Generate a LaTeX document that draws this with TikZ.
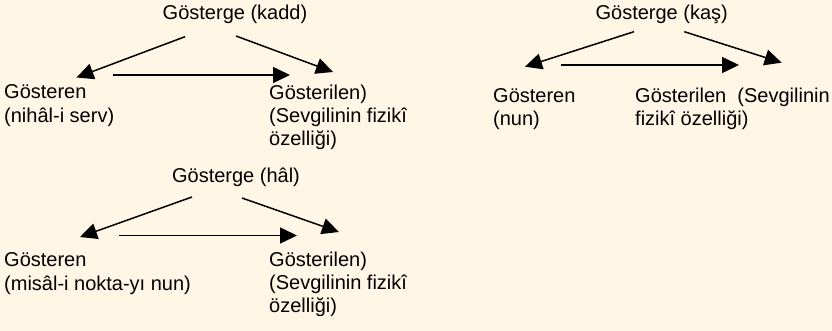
\documentclass[tikz,border=0pt]{standalone}
\usepackage{fontspec}
\setmainfont{Liberation Sans}
\usetikzlibrary{arrows.meta}
\definecolor{paper}{HTML}{FFF6E6}
\tikzset{
  lbl/.style={inner sep=0pt, font=\fontsize{20}{23.3}\selectfont},
  arr/.style={line width=1.5pt, -{Triangle[length=17pt,width=16pt]}},
}
\begin{document}
\begin{tikzpicture}[x=1pt,y=-1pt]
\fill[paper] (0,0) rectangle (832,331);
\useasboundingbox (0,0) rectangle (832,331);

% --- Gösterge (kadd)
\node[lbl, anchor=base] (kaddT) at (235,20) {Gösterge (kadd)};
\node[lbl, anchor=base west] (kaddL) at (4,99)
  {\vtop{\hbox{Gösteren}\hbox{(nihâl-i serv)}}};
\node[lbl, anchor=base west] (kaddR) at (269,99.3)
  {\vtop{\hbox{Gösterilen)}\hbox{(Sevgilinin fizikî}\hbox{özelliği)}}};
\coordinate (kaddTl) at (185,36.7);
\coordinate (kaddTr) at (236,36);
\coordinate (kaddLt) at (76.5,77.5);
\coordinate (kaddRt) at (333,72);
\coordinate (kaddHs) at (112.7,75);
\coordinate (kaddHe) at (290,75);
\draw[arr] (kaddTl) -- (kaddLt);
\draw[arr] (kaddTr) -- (kaddRt);
\draw[arr] (kaddHs) -- (kaddHe);

% --- Gösterge (hâl)
\node[lbl, anchor=base] (halT) at (236,182.7) {Gösterge (hâl)};
\node[lbl, anchor=base west] (halL) at (4,266.7)
  {\vtop{\hbox{Gösteren}\hbox{(misâl-i nokta-yı nun)}}};
\node[lbl, anchor=base west] (halR) at (269,266)
  {\vtop{\hbox{Gösterilen)}\hbox{(Sevgilinin fizikî}\hbox{özelliği)}}};
\coordinate (halTl) at (192,197);
\coordinate (halTr) at (242,198);
\coordinate (halLt) at (80,237);
\coordinate (halRt) at (339,232);
\coordinate (halHs) at (119,235.5);
\coordinate (halHe) at (297,235.5);
\draw[arr] (halTl) -- (halLt);
\draw[arr] (halTr) -- (halRt);
\draw[arr] (halHs) -- (halHe);

% --- Gösterge (kaş)
\node[lbl, anchor=base] (kasT) at (661.7,19.3) {Gösterge (kaş)};
\node[lbl, anchor=base west] (kasL) at (493,102.7)
  {\vtop{\hbox{Gösteren}\hbox{(nun)}}};
\node[lbl, anchor=base west] (kasR) at (635,102.7)
  {\vtop{\hbox{Gösterilen\ \ (Sevgilinin}\hbox{fizikî özelliği)}}};
\coordinate (kasTl) at (634,31.7);
\coordinate (kasTr) at (684.3,31.7);
\coordinate (kasLt) at (525,66.7);
\coordinate (kasRt) at (781.7,62.7);
\coordinate (kasHs) at (560.7,65);
\coordinate (kasHe) at (739,65);
\draw[arr] (kasTl) -- (kasLt);
\draw[arr] (kasTr) -- (kasRt);
\draw[arr] (kasHs) -- (kasHe);
\end{tikzpicture}
\end{document}
